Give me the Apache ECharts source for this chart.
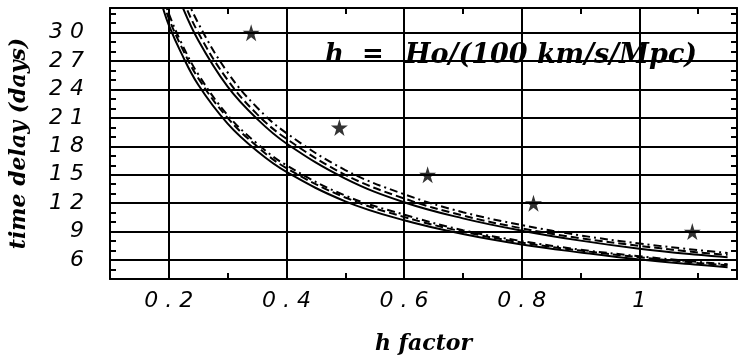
<!DOCTYPE html>
<html>
<head>
<meta charset="utf-8">
<script src="https://cdn.jsdelivr.net/npm/echarts@6/dist/echarts.min.js"></script>
<style>
  html, body { margin: 0; padding: 0; background: #fff; }
  #chart { width: 740px; height: 362px; }
</style>
</head>
<body>
<div id="chart"></div>
<script>
const hValues = [0.19, 0.2, 0.22, 0.25, 0.3, 0.35, 0.4, 0.5, 0.6, 0.7, 0.8, 0.9, 1.0, 1.1, 1.15];

// lower group
const lowSolid   = [32.6, 30.8, 28.0, 24.5, 20.4, 17.5, 15.3, 12.2, 10.2, 8.75, 7.65, 6.8, 6.05, 5.5, 5.25];
const lowDashed  = [33.3, 31.5, 28.7, 25.2, 21.0, 18.0, 15.7, 12.6, 10.55, 9.0, 7.85, 7.0, 6.3, 5.7, 5.45];
const lowDashDot = [33.8, 32.0, 29.1, 25.6, 21.3, 18.3, 16.0, 12.8, 10.8, 9.15, 8.0, 7.1, 6.4, 5.8, 5.55];
// upper group
const upSolid    = [38.4, 36.5, 33.2, 29.2, 24.3, 20.9, 18.3, 14.6, 12.1, 10.4, 9.1, 8.05, 7.2, 6.55, 6.3];
const upDashed   = [39.5, 37.5, 34.1, 30.0, 25.0, 21.4, 18.8, 15.0, 12.5, 10.7, 9.35, 8.3, 7.5, 6.8, 6.55];
const upDashDot  = [40.8, 38.8, 35.2, 31.0, 25.8, 22.1, 19.4, 15.5, 12.95, 11.05, 9.7, 8.6, 7.75, 7.05, 6.75];

// stars
const starH = [0.34, 0.49, 0.64, 0.82, 1.09];
const starT = [30, 20, 15, 12, 9];

// ticks
const xMajor = [0.2, 0.4, 0.6, 0.8, 1];
const xMinor = [0.3, 0.5, 0.7, 0.9, 1.1];
const yMajor = [6, 9, 12, 15, 18, 21, 24, 27, 30];
const yMinor = [5, 6, 7, 8, 9, 10, 11, 12, 13, 14, 15, 16, 17, 18, 19, 20, 21, 22, 23, 24, 25, 26, 27, 28, 29, 30, 31, 32];

const STAR = 'path://M50,0 L61,35 L98,35 L68,57 L79,91 L50,70 L21,91 L32,57 L2,35 L39,35 Z';
const labelFont = { color: '#000', fontFamily: 'DejaVu Sans', fontStyle: 'italic', fontSize: 22 };
const nameFont = { color: '#000', fontFamily: 'DejaVu Serif', fontStyle: 'italic', fontWeight: 'bold', fontSize: 22 };
const spaced = (v) => String(v).split('').join(' ');

const pairs = (arr) => hValues.map((h, i) => [h, arr[i]]);

function curve(arr, dash) {
  return {
    type: 'line',
    data: pairs(arr),
    smooth: 0.4,
    showSymbol: false,
    clip: true,
    lineStyle: { color: '#000', width: 2, type: dash },
  };
}

function xAx(pos, withLabels) {
  return {
    type: 'value', min: 0.1, max: 1.166, position: pos,
    axisLine: { show: true, onZero: false, lineStyle: { color: '#000', width: 2 } },
    axisTick: { show: true, inside: true, length: 6, customValues: xMinor, lineStyle: { color: '#000', width: 2 } },
    axisLabel: withLabels
      ? Object.assign({ show: true, margin: 11, customValues: xMajor, formatter: spaced }, labelFont)
      : { show: false },
    splitLine: { show: false },
    name: withLabels ? 'h factor' : '',
    nameLocation: 'middle', nameGap: 54, nameTextStyle: nameFont,
  };
}

function yAx(pos, withLabels) {
  return {
    type: 'value', min: 4, max: 32.6, position: pos,
    axisLine: { show: true, onZero: false, lineStyle: { color: '#000', width: 2 } },
    axisTick: { show: true, inside: true, length: 6, customValues: yMinor, lineStyle: { color: '#000', width: 2 } },
    axisLabel: withLabels
      ? Object.assign({ show: true, margin: 26, customValues: yMajor, formatter: spaced }, labelFont)
      : { show: false },
    splitLine: { show: false },
    name: withLabels ? 'time delay (days)' : '',
    nameLocation: 'middle', nameGap: 80, nameTextStyle: nameFont,
  };
}

const chart = echarts.init(document.getElementById('chart'));

const gridLines = xMajor.map((v) => ({ xAxis: v })).concat(yMajor.map((v) => ({ yAxis: v })));

chart.setOption({
  animation: false,
  backgroundColor: '#fff',
  grid: { left: 107, right: 3, top: 8, bottom: 83 },
  xAxis: [xAx('bottom', true), xAx('top', false)],
  yAxis: [yAx('left', true), yAx('right', false)],
  graphic: [
    {
      type: 'text', left: 325, top: 42,
      style: { text: 'h  =', fill: '#000', font: 'italic bold 26px "DejaVu Serif"' },
    },
    {
      type: 'text', left: 405, top: 42,
      style: { text: 'Ho/(100 km/s/Mpc)', fill: '#000', font: 'italic bold 27px "DejaVu Serif"' },
    },
  ],
  series: [
    Object.assign(curve(lowSolid, 'solid'), {
      markLine: {
        silent: true, symbol: ['none', 'none'], label: { show: false },
        lineStyle: { color: '#000', width: 2, type: 'solid' },
        data: gridLines,
      },
    }),
    curve(lowDashed, [8, 4]),
    curve(lowDashDot, [8, 4, 2, 4]),
    curve(upSolid, 'solid'),
    curve(upDashed, [8, 4]),
    curve(upDashDot, [8, 4, 2, 4]),
    {
      type: 'scatter',
      data: starH.map((h, i) => [h, starT[i]]),
      symbol: STAR, symbolSize: 17,
      itemStyle: { color: '#000' },
    },
  ],
});
</script>
</body>
</html>
